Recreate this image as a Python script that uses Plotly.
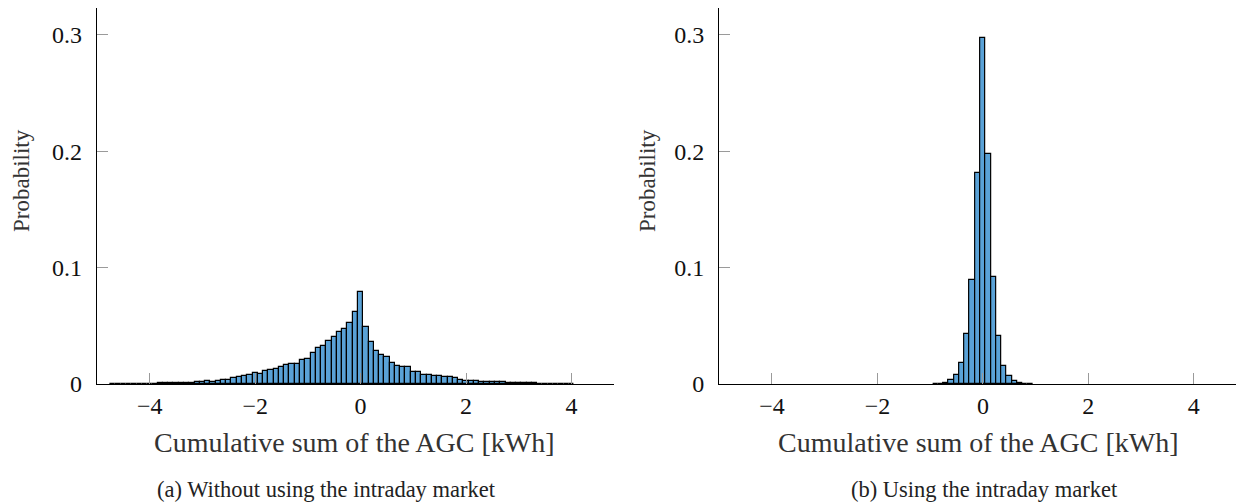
import plotly.graph_objects as go

# ---------------- data ----------------
BIN_WIDTH = 0.1

left_start = -4.7
left_probability = [
    0.0002, 0.0002, 0.0002, 0.0003, 0.0003, 0.0003, 0.0003, 0.0004, 0.0004, 0.0005,
    0.0005, 0.0006, 0.0007, 0.0008, 0.0010, 0.0012, 0.0015, 0.0017, 0.0023, 0.0019,
    0.0026, 0.0032, 0.0037, 0.0052, 0.0056, 0.0072, 0.0080, 0.0095, 0.0085, 0.0108,
    0.0120, 0.0131, 0.0142, 0.0162, 0.0173, 0.0173, 0.0205, 0.0216, 0.0266, 0.0312,
    0.0330, 0.0367, 0.0405, 0.0444, 0.0470, 0.0522, 0.0622, 0.0788, 0.0487, 0.0362,
    0.0287, 0.0249, 0.0235, 0.0178, 0.0152, 0.0146, 0.0149, 0.0100, 0.0106, 0.0080,
    0.0075, 0.0072, 0.0072, 0.0061, 0.0060, 0.0052, 0.0034, 0.0029, 0.0024, 0.0022,
    0.0020, 0.0019, 0.0020, 0.0016, 0.0015, 0.0011, 0.0010, 0.0008, 0.0008, 0.0006,
    0.0005, 0.0004, 0.0004, 0.0003, 0.0003, 0.0003, 0.0002, 0.0002,
]

right_start = -0.9
right_probability = [
    0.0002, 0.0004, 0.0010, 0.0034, 0.0074, 0.0183, 0.0430, 0.0894, 0.1810, 0.2970,
    0.1980, 0.0917, 0.0413, 0.0155, 0.0069, 0.0026, 0.0009, 0.0004, 0.0002,
]

x_tickvals = [-4, -2, 0, 2, 4]
x_ticktext = ["\u22124", "\u22122", "0", "2", "4"]
y_tickvals = [0, 0.1, 0.2, 0.3]
y_ticktext = ["0", "0.1", "0.2", "0.3"]

x_title = "Cumulative sum of the AGC [kWh]"
y_title = "Probability"
caption_a = "(a) Without using the intraday market"
caption_b = "(b) Using the intraday market"

left_centers = [round(left_start + i * BIN_WIDTH, 2) for i in range(len(left_probability))]
right_centers = [round(right_start + i * BIN_WIDTH, 2) for i in range(len(right_probability))]

# ---------------- figure ----------------
FONT = "Liberation Serif"
BAR_COLOR = "rgb(90,162,215)"

fig = go.Figure()
for xs, ys, xa, ya in [
    (left_centers, left_probability, "x", "y"),
    (right_centers, right_probability, "x2", "y2"),
]:
    fig.add_trace(go.Bar(
        x=xs, y=ys, width=BIN_WIDTH, xaxis=xa, yaxis=ya,
        marker=dict(color=BAR_COLOR, line=dict(color="black", width=1.2)),
        showlegend=False, hoverinfo="x+y",
    ))

axis_common = dict(
    showline=True, linecolor="black", linewidth=1.2, mirror=False,
    ticks="inside", ticklen=11, tickwidth=1, tickcolor="#9a9a9a",
    showgrid=False, zeroline=False,
    tickfont=dict(family=FONT, size=24, color="#111"),
)

X_RANGE = [-5, 4.8]
Y_RANGE = [0, 0.3232]

fig.update_layout(
    width=1250, height=503,
    margin=dict(l=89, r=22, t=0, b=127),
    paper_bgcolor="white", plot_bgcolor="white",
    bargap=0,
    xaxis=dict(domain=[0, 0.4536], range=X_RANGE, tickvals=x_tickvals,
               ticktext=x_ticktext, anchor="y", **axis_common),
    yaxis=dict(domain=[0, 1], range=Y_RANGE, tickvals=y_tickvals,
               ticktext=y_ticktext, anchor="x", ticklabelstandoff=9, **axis_common),
    xaxis2=dict(domain=[0.5463, 1], range=X_RANGE, tickvals=x_tickvals,
                ticktext=x_ticktext, anchor="y2", **axis_common),
    yaxis2=dict(domain=[0, 1], range=Y_RANGE, tickvals=y_tickvals,
                ticktext=y_ticktext, anchor="x2", ticklabelstandoff=9, **axis_common),
    font=dict(family=FONT, color="#222"),
)

ann = []
for xc in [0.2265, 0.7735]:
    ann.append(dict(text=x_title, x=xc, y=-0.1543, xref="paper", yref="paper",
                    showarrow=False, xanchor="center", yanchor="middle",
                    font=dict(family=FONT, size=28, color="#333")))
for xc in [-0.0658, 0.4838]:
    ann.append(dict(text=y_title, x=xc, y=0.54, xref="paper", yref="paper",
                    showarrow=False, xanchor="center", yanchor="middle", textangle=-90,
                    font=dict(family=FONT, size=23, color="#333")))
ann.append(dict(text=caption_a, x=0.2011, y=-0.2819, xref="paper", yref="paper",
                showarrow=False, xanchor="center", yanchor="middle",
                font=dict(family=FONT, size=22.5, color="#222")))
ann.append(dict(text=caption_b, x=0.7788, y=-0.2819, xref="paper", yref="paper",
                showarrow=False, xanchor="center", yanchor="middle",
                font=dict(family=FONT, size=22.5, color="#222")))
fig.update_layout(annotations=ann)

fig.write_html("out.html")
